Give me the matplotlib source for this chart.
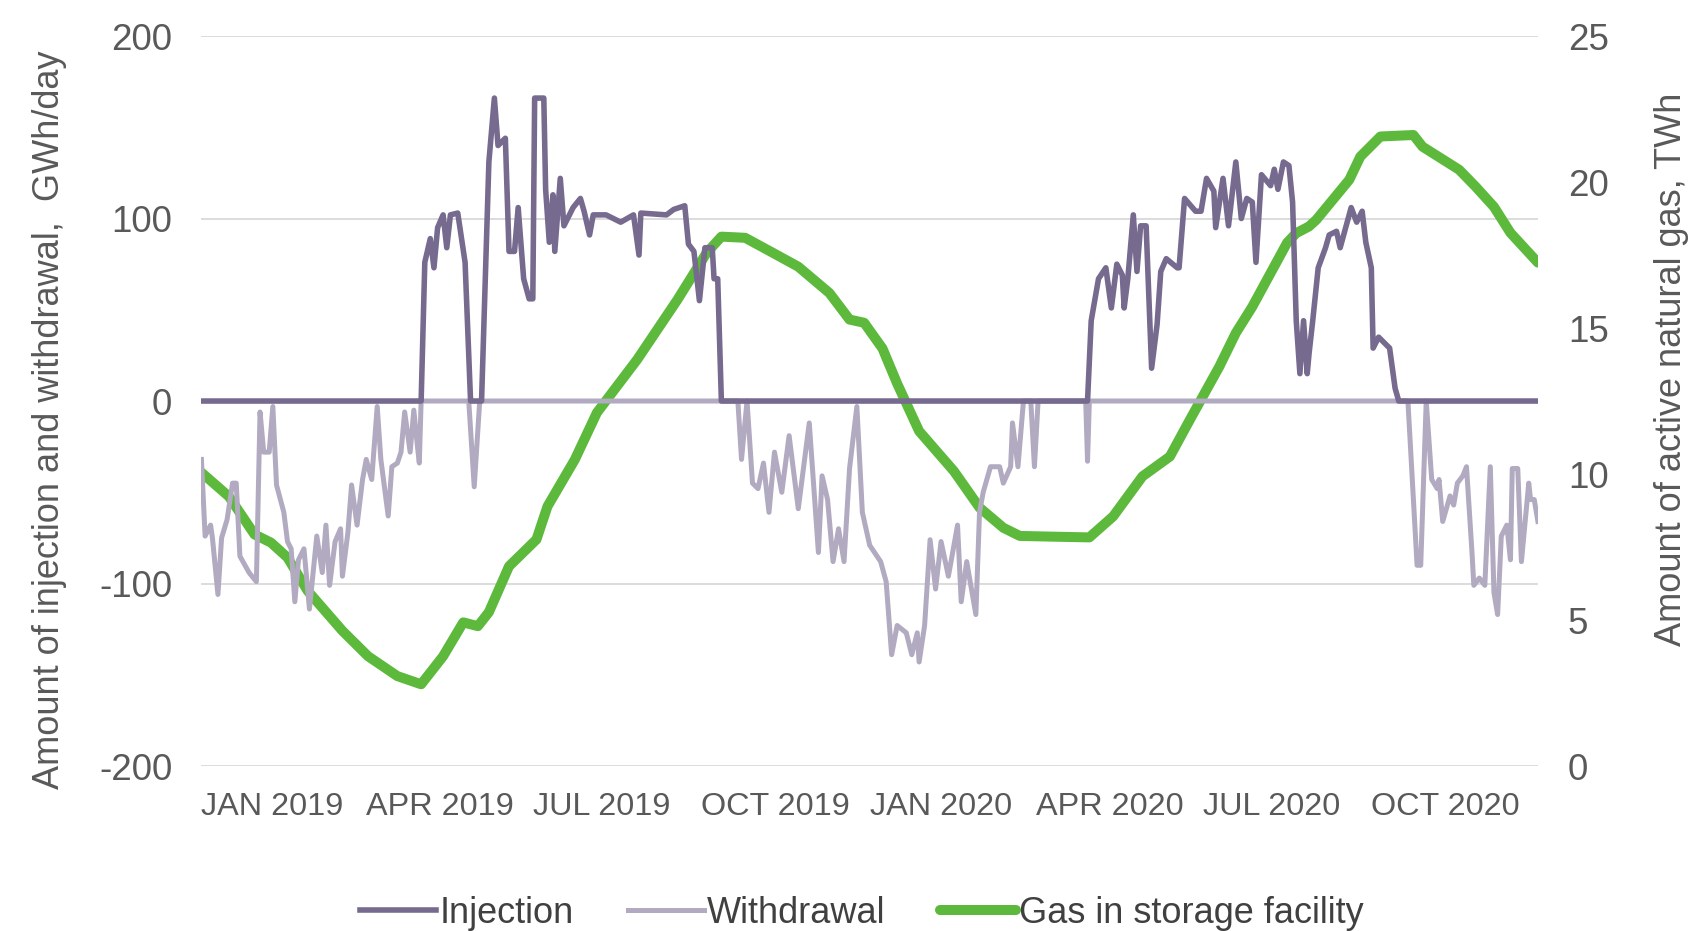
import matplotlib
matplotlib.use("Agg")
import matplotlib.pyplot as plt
import pandas as pd

plt.rcParams["font.family"] = ["Liberation Sans", "DejaVu Sans"]
plt.rcParams["axes.unicode_minus"] = False

# days counted from 1 Jan 2019
start = pd.Timestamp("2019-01-01")

inj_day = [0, 120, 122, 125, 127, 129, 132, 134, 136, 140, 144, 147, 153, 157, 160, 162, 166,
           168, 171, 173, 176, 179, 181, 182, 187, 188, 190, 192, 193, 196, 198, 203, 207, 209,
           212, 214, 221, 229, 236, 239, 240, 254, 258, 264, 266, 269, 272, 275, 279, 280, 282,
           284, 484, 486, 490, 494, 497, 500, 503, 504, 506, 509, 511, 513, 516, 519, 522, 524,
           527, 533, 534, 537, 543, 546, 549, 553, 554, 558, 561, 565, 568, 571, 574, 576, 579,
           584, 586, 588, 591, 594, 596, 598, 600, 602, 604, 605, 607, 610, 614, 616, 620, 622,
           625, 628, 631, 634, 636, 639, 640, 643, 649, 652, 654, 730]
inj_val = [0, 0, 76, 89, 73, 95, 102, 84, 102, 103, 76, 0, 0, 131, 166, 140, 144,
           82, 82, 106, 67, 56, 56, 166, 166, 116, 87, 113, 82, 122, 96, 106, 111, 104,
           91, 102, 102, 98, 102, 80, 103, 102, 105, 107, 86, 82, 55, 84, 84, 67, 67,
           0, 0, 44, 67, 73, 51, 75, 69, 51, 67, 102, 71, 96, 96, 18, 42, 71,
           78, 73, 73, 111, 104, 104, 122, 115, 95, 122, 96, 131, 100, 111, 109, 76, 124,
           118, 127, 116, 131, 129, 109, 44, 15, 44, 15, 26, 44, 73, 84, 91, 93, 84,
           95, 106, 98, 104, 87, 73, 29, 35, 29, 7, 0, 0]

wd_day = [0, 2, 5, 6, 9, 11, 14, 17, 19, 21, 26, 30, 32, 34, 37, 39, 41, 45, 47, 49, 51, 53,
          56, 59, 63, 66, 68, 70, 73, 76, 77, 80, 82, 85, 88, 90, 93, 96, 98, 102, 104, 107,
          109, 111, 114, 116, 118, 119, 120, 146, 149, 152, 293, 295, 298, 301, 304, 307, 310,
          313, 317, 321, 326, 332, 337, 339, 342, 345, 348, 351, 354, 358, 361, 365, 371, 374,
          377, 380, 385, 388, 391, 392, 395, 398, 401, 404, 408, 413, 415, 418, 423, 425, 427,
          431, 436, 438, 442, 443, 446, 449, 453, 455, 457, 483, 484, 485, 659, 664, 666, 669,
          672, 675, 676, 678, 682, 684, 686, 689, 691, 694, 695, 698, 701, 704, 706, 708, 710,
          713, 715, 716, 719, 721, 725, 726, 728, 730]
wd_val = [-32, -74, -68, -75, -106, -75, -65, -45, -45, -85, -94, -99, -6, -28, -28, -3, -46,
          -61, -77, -81, -110, -87, -81, -114, -74, -94, -68, -101, -77, -70, -96, -72, -46,
          -68, -43, -32, -43, -3, -32, -63, -36, -34, -28, -6, -28, -5, -25, -34, 0, 0, -47, 0,
          0, -32, 0, -45, -48, -34, -61, -28, -50, -19, -59, -12, -83, -41, -54, -88, -70, -88,
          -37, -3, -61, -79, -88, -99, -139, -123, -127, -139, -127, -143, -123, -76, -103, -77,
          -96, -68, -110, -88, -117, -61, -50, -36, -36, -45, -36, -12, -36, 0, 0, -36, 0, 0,
          -33, 0, 0, -90, -90, 0, -43, -48, -43, -66, -52, -57, -45, -41, -36, -83, -101, -97,
          -101, -36, -105, -117, -74, -68, -87, -37, -37, -88, -45, -54, -54, -66]

gas_day = [0, 15, 29, 38, 47, 58, 77, 91, 107, 120, 132, 143, 151, 157, 168, 183, 189, 204,
           216, 238, 260, 276, 284, 297, 312, 326, 343, 354, 362, 372, 380, 392, 411, 425, 438,
           447, 469, 485, 498, 514, 529, 540, 556, 565, 574, 593, 598, 605, 609, 627, 633, 644,
           662, 667, 687, 696, 706, 715, 730]
gas_val = [10.05, 9.23, 7.93, 7.65, 7.14, 6.0, 4.63, 3.76, 3.08, 2.80, 3.76, 4.92, 4.79, 5.27,
           6.84, 7.76, 8.89, 10.5, 12.1, 13.92, 15.97, 17.58, 18.13, 18.09, 17.58, 17.1, 16.2,
           15.29, 15.18, 14.3, 13.1, 11.47, 10.1, 8.85, 8.16, 7.88, 7.85, 7.83, 8.55, 9.92,
           10.6, 11.87, 13.68, 14.83, 15.73, 17.92, 18.25, 18.48, 18.71, 20.08, 20.87, 21.56,
           21.61, 21.21, 20.42, 19.84, 19.15, 18.26, 17.24]

tick_dates = ["2019-01-01", "2019-04-01", "2019-07-01", "2019-10-01",
              "2020-01-01", "2020-04-01", "2020-07-01", "2020-10-01"]
tick_labels = ["JAN 2019", "APR 2019", "JUL 2019", "OCT 2019",
               "JAN 2020", "APR 2020", "JUL 2020", "OCT 2020"]


def to_dates(days):
    return start + pd.to_timedelta(days, unit="D")


c_inj = "#766a8f"
c_wd = "#b1aac0"
c_gas = "#5cb93c"
c_txt = "#595959"

fig = plt.figure(figsize=(16.9, 9.31), dpi=100)
ax = fig.add_axes([0.1192, 0.1772, 0.7908, 0.7841])
ax2 = ax.twinx()
ax3 = ax.twinx()

ax.set_ylim(-200, 200)
ax.set_yticks([-200, -100, 0, 100, 200])
ax.grid(axis="y", color="#d9d9d9", linewidth=1.3)
ax.set_axisbelow(True)
ax3.set_ylim(-200, 200)
ax3.set_yticks([])

ax2.set_ylim(0, 25)
ax2.set_yticks([0, 5, 10, 15, 20, 25])

ax2.plot(to_dates(gas_day), gas_val, color=c_gas, linewidth=7.2,
         solid_capstyle="round", solid_joinstyle="round", label="Gas in storage facility")
ax3.plot(to_dates(wd_day), wd_val, color=c_wd, linewidth=3.6,
         solid_joinstyle="round", label="Withdrawal")
ax3.plot(to_dates(inj_day), inj_val, color=c_inj, linewidth=4.0,
         solid_joinstyle="round", label="Injection")

ax.set_xlim(pd.Timestamp("2019-01-01"), pd.Timestamp("2020-12-31"))
ax.set_xticks(pd.to_datetime(tick_dates))
ax.set_xticklabels(tick_labels, ha="left")

for a in (ax, ax2, ax3):
    for s in a.spines.values():
        s.set_visible(False)
    a.tick_params(length=0, labelcolor=c_txt)
ax.tick_params(axis="x", pad=19, labelsize=23.3)
ax.tick_params(axis="y", pad=21, labelsize=26.5)
ax2.tick_params(axis="y", pad=21.5, labelsize=26.5)

ax.set_ylabel("Amount of injection and withdrawal,  GWh/day", fontsize=26, color=c_txt)
ax.yaxis.set_label_coords(-0.1006, 0.474)
ax2.set_ylabel("Amount of active natural gas, TWh", fontsize=26, color=c_txt)
ax2.yaxis.set_label_coords(1.0868, 0.544)

h3, l3 = ax3.get_legend_handles_labels()
h2, l2 = ax2.get_legend_handles_labels()
handles = [h3[1], h3[0], h2[0]]
labels = [l3[1], l3[0], l2[0]]
fig.legend(handles, labels, loc="center", bbox_to_anchor=(0.51, 0.019), ncol=3,
           frameon=False, fontsize=26, handlelength=2.1, handletextpad=0.1,
           columnspacing=1.5, labelcolor="#404040")

fig.savefig("out.png", dpi=100)
plt.close(fig)
